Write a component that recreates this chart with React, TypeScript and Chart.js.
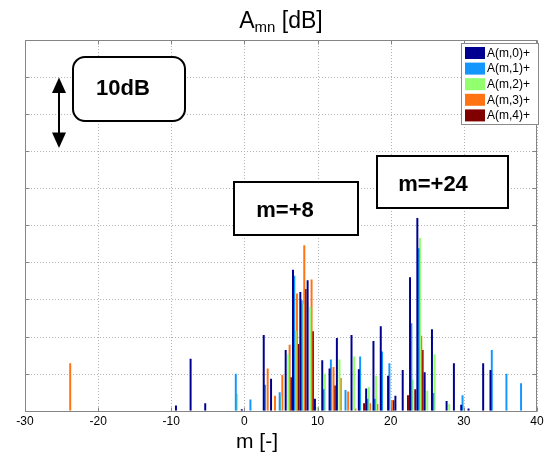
import React, { useEffect, useRef } from 'react';
import { Chart, registerables } from 'chart.js';

Chart.register(...registerables);

// Azimuthal order m (x categories)
const mCategories = [
  -30, -29, -28, -27, -26, -25, -24, -23, -22, -21, -20, -19, -18, -17, -16, -15,
  -14, -13, -12, -11, -10, -9, -8, -7, -6, -5, -4, -3, -2, -1, 0, 1, 2, 3, 4, 5,
  6, 7, 8, 9, 10, 11, 12, 13, 14, 15, 16, 17, 18, 19, 20, 21, 22, 23, 24, 25, 26,
  27, 28, 29, 30, 31, 32, 33, 34, 35, 36, 37, 38, 39, 40,
];
const xTickValues = [-30, -20, -10, 0, 10, 20, 30, 40];
const yMax = 50; // dB range shown
const yStep = 5; // dB per grid line

const seriesLabels = ['A(m,0)+', 'A(m,1)+', 'A(m,2)+', 'A(m,3)+', 'A(m,4)+'];
const seriesColors = ['#000090', '#1496ff', '#92ff6e', '#ff7312', '#800000'];

// [m, level dB] pairs
const a0: [number, number][] = [
  [-9, 0.7], [-7, 7.0], [-5, 1.0], [0, 0.2], [3, 10.2], [4, 4.3], [6, 8.2], [7, 19.0],
  [8, 16.0], [9, 17.6], [10, 1.6], [11, 6.8], [12, 5.7], [13, 9.8], [15, 10.2], [16, 5.6],
  [17, 3.0], [18, 9.4], [19, 11.4], [20, 4.7], [21, 2.0], [22, 5.5], [23, 18.0], [24, 26.0],
  [25, 5.2], [26, 11.0], [28, 1.3], [29, 6.4], [30, 0.8], [31, 0.3], [33, 6.4], [34, 5.5],
];
const a1: [number, number][] = [
  [-1, 5.0], [1, 1.5], [3, 3.5], [5, 2.5], [7, 18.2], [8, 14.9], [11, 2.9], [12, 6.9],
  [14, 2.8], [16, 7.3], [17, 1.6], [18, 1.6], [19, 8.0], [20, 6.4], [23, 11.8], [24, 21.9],
  [26, 2.4], [30, 2.1], [34, 8.2], [36, 5.0], [38, 3.7],
];
const a2: [number, number][] = [
  [-1, 2.3], [5, 1.9], [6, 7.6], [7, 10.8], [8, 14.4], [9, 14.0], [10, 0.5], [11, 5.0],
  [13, 6.9], [15, 7.3], [17, 3.2], [18, 4.7], [23, 4.2], [24, 23.3], [25, 2.7], [26, 7.6],
  [28, 0.9],
];
const a3: [number, number][] = [
  [-24, 6.4], [3, 5.7], [4, 2.0], [5, 4.8], [6, 8.9], [7, 15.8], [8, 22.3], [9, 17.7],
  [12, 5.9], [13, 4.4], [14, 2.6], [15, 0.3], [17, 1.0], [18, 0.9], [20, 1.4], [24, 10.1],
];
const a4: [number, number][] = [
  [6, 4.5], [7, 9.0], [8, 16.4], [9, 10.7], [12, 3.4], [16, 1.0], [20, 1.4], [22, 2.1],
  [23, 2.9], [24, 8.2],
];
const seriesPoints = [a0, a1, a2, a3, a4];

const FONT = '"Liberation Sans", Arial, sans-serif';

function toSeries(points: [number, number][]) {
  return mCategories.map((m) => {
    const p = points.find((q) => q[0] === m);
    return p ? p[1] : 0;
  });
}

const decorPlugin = {
  id: 'decor',
  beforeDatasetsDraw(chart: any) {
    const { ctx, chartArea: a, scales } = chart;
    const x = scales.x;
    const y = scales.y;
    ctx.save();
    ctx.strokeStyle = '#b4b4b4';
    ctx.lineWidth = 1;
    ctx.setLineDash([1, 2]);
    xTickValues.forEach((v) => {
      const px = Math.round(x.getPixelForValue(mCategories.indexOf(v))) + 0.5;
      ctx.beginPath();
      ctx.moveTo(px, a.top);
      ctx.lineTo(px, a.bottom);
      ctx.stroke();
    });
    y.ticks.forEach((t: any) => {
      const py = Math.round(y.getPixelForValue(t.value)) + 0.5;
      ctx.beginPath();
      ctx.moveTo(a.left, py);
      ctx.lineTo(a.right, py);
      ctx.stroke();
    });
    ctx.restore();
  },
  afterDraw(chart: any) {
    const { ctx, chartArea: a, scales } = chart;
    const x = scales.x;
    const y = scales.y;
    ctx.save();
    // box
    ctx.strokeStyle = '#858585';
    ctx.lineWidth = 1;
    ctx.setLineDash([]);
    const L = Math.round(a.left) + 0.5;
    const R = Math.round(a.right) - 0.5;
    const T = Math.round(a.top) + 0.5;
    const B = Math.round(a.bottom) + 0.5;
    ctx.strokeRect(L, T, R - L, B - T);
    // tick marks inside
    const tl = 4;
    ctx.beginPath();
    xTickValues.forEach((v) => {
      const px = Math.round(x.getPixelForValue(mCategories.indexOf(v))) + 0.5;
      ctx.moveTo(px, B);
      ctx.lineTo(px, B - tl);
      ctx.moveTo(px, T);
      ctx.lineTo(px, T + tl);
    });
    y.ticks.forEach((t: any) => {
      const py = Math.round(y.getPixelForValue(t.value)) + 0.5;
      ctx.moveTo(L, py);
      ctx.lineTo(L + tl, py);
      ctx.moveTo(R, py);
      ctx.lineTo(R - tl, py);
    });
    ctx.stroke();

    // title A_mn [dB]
    ctx.fillStyle = '#000';
    ctx.textBaseline = 'alphabetic';
    ctx.textAlign = 'left';
    const big = `23px ${FONT}`;
    const small = `15px ${FONT}`;
    ctx.font = big;
    const wA = ctx.measureText('A').width;
    const wRest = ctx.measureText(' [dB]').width;
    ctx.font = small;
    const wSub = ctx.measureText('mn').width;
    const total = wA + wSub + wRest;
    let tx = (a.left + a.right) / 2 - total / 2;
    const base = 28;
    ctx.font = big;
    ctx.fillText('A', tx, base);
    tx += wA;
    ctx.font = small;
    ctx.fillText('mn', tx, base + 4);
    tx += wSub;
    ctx.font = big;
    ctx.fillText(' [dB]', tx, base);

    // x label
    ctx.font = `21px ${FONT}`;
    ctx.textAlign = 'center';
    ctx.textBaseline = 'middle';
    ctx.fillText('m [-]', 257, 442);

    // legend
    const lx = 461;
    const ly = 43;
    const lw = 77;
    const lh = 81;
    ctx.fillStyle = '#fff';
    ctx.fillRect(lx, ly, lw, lh);
    ctx.strokeStyle = '#8a8a8a';
    ctx.strokeRect(lx + 0.5, ly + 0.5, lw, lh);
    ctx.font = `12px ${FONT}`;
    ctx.textAlign = 'left';
    ctx.textBaseline = 'middle';
    chart.data.datasets.forEach((ds: any, i: number) => {
      const ry = ly + 4 + i * 15.6;
      ctx.fillStyle = ds.backgroundColor;
      ctx.fillRect(lx + 4, ry, 20, 12);
      ctx.fillStyle = '#000';
      ctx.fillText(ds.label, lx + 26, ry + 6.5);
    });
    ctx.restore();
  },
};

export default function App() {
  const canvasRef = useRef<HTMLCanvasElement | null>(null);

  useEffect(() => {
    document.body.style.margin = '0';
    const canvas = canvasRef.current;
    if (!canvas) return;
    const chart = new Chart(canvas, {
      type: 'bar',
      data: {
        labels: mCategories.map(String),
        datasets: seriesPoints.map((pts, i) => ({
          label: seriesLabels[i],
          data: toSeries(pts),
          backgroundColor: seriesColors[i],
          borderWidth: 0,
          barPercentage: 1.5,
          categoryPercentage: 0.9,
        })),
      },
      options: {
        animation: false,
        responsive: false,
        devicePixelRatio: 1,
        layout: { padding: { left: 25, right: 12, top: 40, bottom: 0 } },
        plugins: {
          legend: { display: false },
          title: { display: false },
          tooltip: { enabled: false },
        },
        scales: {
          x: {
            type: 'category',
            offset: false,
            grid: { display: false, drawTicks: false },
            border: { display: false },
            ticks: {
              autoSkip: false,
              maxRotation: 0,
              minRotation: 0,
              padding: 4,
              color: '#000',
              font: { family: FONT, size: 12 },
              callback: (_v: any, index: number) => {
                const m = mCategories[index];
                return xTickValues.includes(m) ? String(m) : '';
              },
            },
            afterFit: (scale: any) => {
              scale.height = 46.3;
            },
          },
          y: {
            display: false,
            min: 0,
            max: yMax,
            ticks: { stepSize: yStep },
          },
        },
      },
      plugins: [decorPlugin],
    });
    return () => chart.destroy();
  }, []);

  const boxText: React.CSSProperties = {
    position: 'absolute',
    fontFamily: FONT,
    fontWeight: 'bold',
    fontSize: 22,
    lineHeight: '26px',
    width: 120,
    textAlign: 'center',
    color: '#000',
  };

  return (
    <div style={{ position: 'relative', width: 549, height: 457, background: '#fff' }}>
      <canvas ref={canvasRef} width={549} height={457} style={{ display: 'block' }} />
      <div
        style={{
          position: 'absolute', left: 72, top: 56, width: 114, height: 66,
          boxSizing: 'border-box', border: '2px solid #000', borderRadius: 13, background: '#fff',
        }}
      />
      <div style={{ ...boxText, left: 123 - 60, top: 88 - 13 }}>10dB</div>
      <svg style={{ position: 'absolute', left: 48, top: 74 }} width={24} height={78}>
        <line x1={11} y1={14} x2={11} y2={62} stroke="#000" strokeWidth={2} />
        <polygon points="11,3.5 4,19 18,19" fill="#000" />
        <polygon points="11,74 4,58.5 18,58.5" fill="#000" />
      </svg>
      <div
        style={{
          position: 'absolute', left: 233, top: 181, width: 126, height: 55,
          boxSizing: 'border-box', border: '2px solid #000', background: '#fff',
        }}
      />
      <div style={{ ...boxText, left: 285 - 60, top: 210 - 13 }}>m=+8</div>
      <div
        style={{
          position: 'absolute', left: 376, top: 155, width: 133, height: 54,
          boxSizing: 'border-box', border: '2px solid #000', background: '#fff',
        }}
      />
      <div style={{ ...boxText, left: 433 - 60, top: 183.5 - 13 }}>m=+24</div>
    </div>
  );
}
